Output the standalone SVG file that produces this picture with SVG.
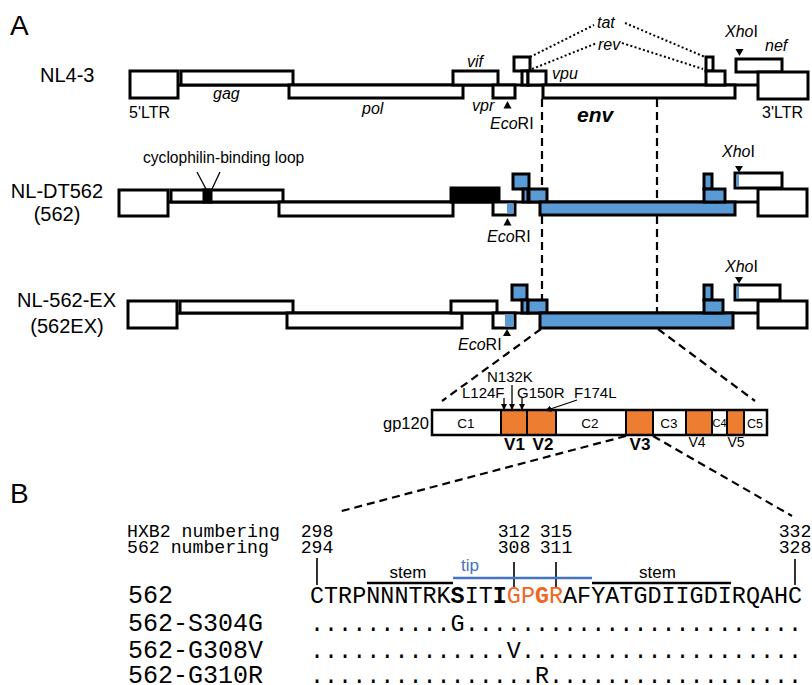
<svg xmlns="http://www.w3.org/2000/svg" width="812" height="685" viewBox="0 0 812 685">
<style>
.bx{fill:#fff;stroke:#000;stroke-width:3}
.bl{fill:#5B9BD5;stroke:#000;stroke-width:3}
.bk{fill:#000;stroke:#000;stroke-width:3}
.fb{fill:#5B9BD5;stroke:none}
.ln{fill:none;stroke:#000;stroke-width:3}
.dash{fill:none;stroke:#000;stroke-width:2.2;stroke-dasharray:8 5}
.dot{fill:none;stroke:#000;stroke-width:2;stroke-dasharray:2 2.4}
.thin{fill:none;stroke:#000;stroke-width:1.3}
.tick{fill:none;stroke:#000;stroke-width:1.6}
.t{font-family:"Liberation Sans",Arial,sans-serif;fill:#000}
.it{font-style:italic}
.s16{font-size:16px}
.lab{font-size:20px}
.mono{font-family:"Liberation Mono","Courier New",monospace;fill:#000}
.gs{fill:#fff;stroke:#000;stroke-width:2}
.go{fill:#ED7D31;stroke:#000;stroke-width:2}
.or{fill:#F26522}
</style>
<defs>
<marker id="ah" viewBox="0 0 6 6" refX="5" refY="3" markerWidth="5" markerHeight="5" orient="auto">
<path d="M0,0 L6,3 L0,6 z" fill="#000"/>
</marker>
</defs>

<text class="t" x="10" y="35" font-size="28">A</text>
<text class="t" x="10" y="503" font-size="28">B</text>

<g id="connectors">
<path class="dash" d="M542 99 V313"/>
<path class="dash" d="M657 99 V313"/>
<path class="dash" d="M541 329 L442 401"/>
<path class="dash" d="M658 329 L755 401"/>
<path class="dash" d="M626 436 L338 512"/>
<path class="dash" d="M653 436 L792 516"/>
<path class="dot" d="M530 57 L594 25"/>
<path class="dot" d="M532 69 L597 43"/>
<path class="dot" d="M625 23 L705 57"/>
<path class="dot" d="M622 43 L703 69"/>
</g>

<g id="row-nl43">
<text class="t lab" x="40" y="82">NL4-3</text>
<path class="ln" d="M178 85 H758"/>
<rect class="bx" x="130" y="71" width="48" height="27"/>
<rect class="bx" x="181" y="71" width="112" height="14"/>
<rect class="bx" x="289" y="85" width="174" height="13"/>
<rect class="bx" x="453" y="71" width="45" height="14"/>
<rect class="bx" x="493" y="85" width="22" height="13"/>
<rect class="bx" x="514" y="57" width="16" height="14"/>
<rect class="bx" x="522" y="71" width="6" height="14"/>
<rect class="bx" x="528" y="71" width="18" height="14"/>
<rect class="bx" x="543" y="85" width="192" height="13"/>
<rect class="bx" x="706" y="57" width="7" height="14"/>
<rect class="bx" x="706" y="71" width="19" height="14"/>
<rect class="bx" x="736" y="59" width="46" height="13"/>
<rect class="bx" x="758" y="72" width="50" height="27"/>
<polygon points="507.5,101 503.5,108.5 511.5,108.5" fill="#000"/>
<polygon points="735.5,49 743.5,49 739.5,56" fill="#000"/>
<text class="t s16" x="129" y="118">5'LTR</text>
<text class="t s16 it" x="213" y="99">gag</text>
<text class="t s16 it" x="362" y="114">pol</text>
<text class="t s16 it" x="467" y="67">vif</text>
<text class="t s16 it" x="472" y="111">vpr</text>
<text class="t s16 it" x="552" y="79">vpu</text>
<text class="t s16 it" x="597" y="28">tat</text>
<text class="t s16 it" x="598" y="50">rev</text>
<text class="t s16 it" x="765" y="51">nef</text>
<text class="t s16" x="490" y="129"><tspan font-style="italic">Eco</tspan>RI</text>
<text class="t s16" x="725" y="37"><tspan font-style="italic">Xho</tspan>I</text>
<text class="t it" x="577" y="122" font-size="21" font-weight="bold">env</text>
<text class="t s16" x="762" y="118">3'LTR</text>
</g>

<g id="row-dt562">
<text class="t lab" x="57" y="198" text-anchor="middle">NL-DT562</text>
<text class="t lab" x="57" y="221" text-anchor="middle">(562)</text>
<text class="t" x="143" y="163" font-size="15.6">cyclophilin-binding loop</text>
<path class="thin" d="M197 172 L206 189 M220 172 L212 189"/>
<path class="ln" d="M168 202 H758"/>
<rect class="bx" x="119" y="190" width="49" height="26"/>
<rect class="bx" x="171" y="190" width="112" height="12"/>
<rect class="bk" x="204" y="190" width="7" height="12"/>
<rect class="bx" x="279" y="202" width="174" height="14"/>
<rect class="bk" x="451" y="188" width="48" height="14"/>
<rect class="bx" x="493" y="202" width="22" height="13"/>
<rect class="fb" x="507" y="203.5" width="6.5" height="10"/>
<rect class="bl" x="513" y="174" width="16" height="15"/>
<rect class="bl" x="523" y="189" width="5" height="13"/>
<rect class="bl" x="529" y="189" width="18" height="13"/>
<rect class="bl" x="540" y="202" width="195" height="13"/>
<rect class="bl" x="704" y="174" width="8" height="15"/>
<rect class="bl" x="704" y="189" width="21" height="13"/>
<rect class="bx" x="735" y="173" width="47" height="15"/>
<rect class="fb" x="736.5" y="174.5" width="2.5" height="12"/>
<rect class="bx" x="758" y="189" width="49" height="27"/>
<polygon points="507.5,218 503.5,225.5 511.5,225.5" fill="#000"/>
<polygon points="735,166 743,166 739,172.5" fill="#000"/>
<text class="t s16" x="487" y="242"><tspan font-style="italic">Eco</tspan>RI</text>
<text class="t s16" x="722" y="157"><tspan font-style="italic">Xho</tspan>I</text>
</g>

<g id="row-562ex">
<text class="t lab" x="66.5" y="307" text-anchor="middle">NL-562-EX</text>
<text class="t lab" x="67" y="333" text-anchor="middle">(562EX)</text>
<path class="ln" d="M177 313 H758"/>
<rect class="bx" x="128" y="301" width="49" height="27"/>
<rect class="bx" x="180" y="301" width="113" height="12"/>
<rect class="bx" x="287" y="313" width="175" height="15"/>
<rect class="bx" x="451" y="301" width="46" height="12"/>
<rect class="bx" x="493" y="313" width="22" height="15"/>
<rect class="fb" x="505" y="314.5" width="8.5" height="12"/>
<rect class="bl" x="512" y="285" width="15" height="15"/>
<rect class="bl" x="522" y="300" width="6" height="13"/>
<rect class="bl" x="528" y="300" width="19" height="13"/>
<rect class="bl" x="540" y="313" width="193" height="15"/>
<rect class="bl" x="704" y="285" width="8" height="15"/>
<rect class="bl" x="704" y="300" width="19" height="13"/>
<rect class="bx" x="735" y="285" width="45" height="15"/>
<rect class="fb" x="736.5" y="286.5" width="2.5" height="12"/>
<rect class="bx" x="758" y="301" width="49" height="27"/>
<polygon points="507,329 503,336 511,336" fill="#000"/>
<polygon points="735,277 743,277 739,283.5" fill="#000"/>
<text class="t s16" x="458" y="350"><tspan font-style="italic">Eco</tspan>RI</text>
<text class="t s16" x="725" y="272"><tspan font-style="italic">Xho</tspan>I</text>
</g>

<g id="gp120">
<text class="t" x="383" y="429" font-size="16.5">gp120</text>
<rect class="gs" x="432" y="410" width="69" height="25"/>
<rect class="go" x="501" y="410" width="26" height="25"/>
<rect class="go" x="527" y="410" width="29" height="25"/>
<rect class="gs" x="556" y="410" width="70" height="25"/>
<rect class="go" x="626" y="410" width="27" height="25"/>
<rect class="gs" x="653" y="410" width="33" height="25"/>
<rect class="go" x="686" y="410" width="26" height="25"/>
<rect class="gs" x="712" y="410" width="15" height="25"/>
<rect class="go" x="727" y="410" width="17" height="25"/>
<rect class="gs" x="744" y="410" width="23" height="25"/>
<rect x="432" y="410" width="335" height="25" fill="none" stroke="#000" stroke-width="2.5"/>
<g class="t" font-size="13.5" text-anchor="middle">
<text x="466" y="428">C1</text>
<text x="590" y="428">C2</text>
<text x="669" y="428">C3</text>
<text x="719.5" y="427" font-size="11">C4</text>
<text x="755" y="428" font-size="12.5">C5</text>
</g>
<g class="t" font-size="17" font-weight="bold" text-anchor="middle">
<text x="514.5" y="450">V1</text>
<text x="543" y="450">V2</text>
<text x="640" y="450">V3</text>
</g>
<g class="t" font-size="14" text-anchor="middle">
<text x="697" y="447">V4</text>
<text x="736" y="447">V5</text>
</g>
<g class="t" font-size="15">
<text x="487" y="382">N132K</text>
<text x="462" y="398">L124F</text>
<text x="517" y="398">G150R</text>
<text x="574" y="398">F174L</text>
</g>
<path class="thin" d="M504 398 V409" marker-end="url(#ah)"/>
<path class="thin" d="M512 385 V409" marker-end="url(#ah)"/>
<path class="thin" d="M522 398 V409" marker-end="url(#ah)"/>
<path class="thin" d="M577 400 L546 410.5" marker-end="url(#ah)"/>
</g>

<g id="alignment">
<text class="mono" x="127" y="537" font-size="18.2">HXB2 numbering</text>
<text class="mono" x="127" y="553" font-size="18.2">562 numbering</text>
<g class="mono" font-size="18.2" text-anchor="middle">
<text x="317" y="537">298</text>
<text x="317" y="553">294</text>
<text x="514" y="537">312</text>
<text x="514" y="553">308</text>
<text x="556" y="537">315</text>
<text x="556" y="553">311</text>
<text x="795" y="537">332</text>
<text x="795" y="553">328</text>
</g>
<path class="tick" d="M317 558 V585 M514 562 V587 M556 562 V587 M795 559 V585"/>
<path d="M367 583 H453 M592 583 H731" stroke="#000" stroke-width="2.6"/>
<path d="M453 578 H592" stroke="#4472C4" stroke-width="2.6"/>
<text class="t" x="408" y="578" font-size="17" text-anchor="middle">stem</text>
<text class="t" x="657.5" y="578" font-size="17" text-anchor="middle">stem</text>
<text class="t" x="461" y="571" font-size="17" style="fill:#4472C4">tip</text>
<g class="mono" font-size="25">
<text x="128" y="603">562</text>
<text x="128" y="631">562-S304G</text>
<text x="128" y="658">562-G308V</text>
<text x="128" y="683">562-G310R</text>
</g>
<g class="mono" font-size="23.4" text-anchor="middle">
<text y="603"><tspan x="317.0 331.1 345.1 359.2 373.2 387.3 401.4 415.4 429.5 443.5">CTRPNNNTRK</tspan><tspan x="457.6" font-weight="bold">S</tspan><tspan x="471.7 485.7">IT</tspan><tspan x="499.8" font-weight="bold">I</tspan><tspan class="or" x="513.8 527.9">GP</tspan><tspan class="or" x="542.0" font-weight="bold">G</tspan><tspan class="or" x="556.0">R</tspan><tspan x="570.1 584.1 598.2 612.3 626.3 640.4 654.4 668.5 682.6 696.6 710.7 724.7 738.8 752.9 766.9 781.0 795.0">AFYATGDIIGDIRQAHC</tspan></text>
<text y="631" x="317.0 331.1 345.1 359.2 373.2 387.3 401.4 415.4 429.5 443.5 457.6 471.7 485.7 499.8 513.8 527.9 542.0 556.0 570.1 584.1 598.2 612.3 626.3 640.4 654.4 668.5 682.6 696.6 710.7 724.7 738.8 752.9 766.9 781.0 795.0">..........G........................</text>
<text y="658" x="317.0 331.1 345.1 359.2 373.2 387.3 401.4 415.4 429.5 443.5 457.6 471.7 485.7 499.8 513.8 527.9 542.0 556.0 570.1 584.1 598.2 612.3 626.3 640.4 654.4 668.5 682.6 696.6 710.7 724.7 738.8 752.9 766.9 781.0 795.0">..............V....................</text>
<text y="683" x="317.0 331.1 345.1 359.2 373.2 387.3 401.4 415.4 429.5 443.5 457.6 471.7 485.7 499.8 513.8 527.9 542.0 556.0 570.1 584.1 598.2 612.3 626.3 640.4 654.4 668.5 682.6 696.6 710.7 724.7 738.8 752.9 766.9 781.0 795.0">................R..................</text>
</g>
</g>
</svg>
